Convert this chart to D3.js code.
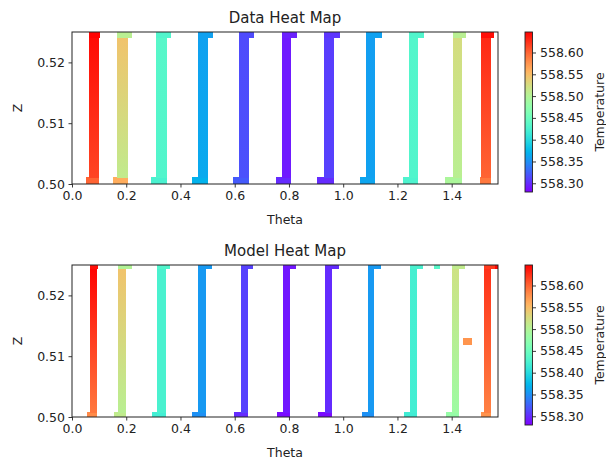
<!DOCTYPE html>
<html><head><meta charset="utf-8">
<script src="https://cdn.jsdelivr.net/npm/d3@7"></script>
<style>body{margin:0;background:#fff}svg{display:block}text{font-family:"DejaVu Sans",sans-serif;fill:#222}</style>
</head><body><svg id="c" width="606" height="461"></svg>
<script>
// ---- data ----
const xTicks = [0.0, 0.2, 0.4, 0.6, 0.8, 1.0, 1.2, 1.4];
const zTicks = [0.50, 0.51, 0.52];
const cbTicks = [558.30, 558.35, 558.40, 558.45, 558.50, 558.55, 558.60];
const thetaDomain = [0, Math.PI / 2];
const zDomain = [0.5, 0.525];
const tempDomain = [558.28, 558.647];

// Data heat map columns (theta edges) and temperatures
const dataLeft     = [0.0627, 0.1668, 0.3100, 0.4649, 0.6162, 0.7749, 0.9299, 1.0839, 1.2410, 1.4047, 1.5092];
const dataRight    = [0.1000, 0.2074, 0.3506, 0.5018, 0.6531, 0.8081, 0.9643, 1.1181, 1.2742, 1.4391, 1.5450];
const dataStepLeft = [0.0506, 0.1513, 0.2904, 0.4417, 0.5952, 0.7517, 0.9052, 1.0627, 1.2189, 1.3739, 1.5055];
const dataCapRight = [0.1026, 0.2225, 0.3653, 0.5214, 0.6728, 0.8314, 0.9864, 1.1428, 1.2963, 1.4539, 1.5572];
const dataTempCap     = [558.645, 558.505, 558.430, 558.360, 558.315, 558.295, 558.305, 558.360, 558.430, 558.505, 558.640];
const dataTempTop     = [558.642, 558.545, 558.435, 558.360, 558.315, 558.292, 558.308, 558.358, 558.432, 558.525, 558.628];
const dataTempBottom  = [558.615, 558.510, 558.430, 558.365, 558.318, 558.292, 558.310, 558.360, 558.430, 558.505, 558.600];
const dataTempStep    = [558.600, 558.560, 558.425, 558.370, 558.322, 558.300, 558.300, 558.362, 558.428, 558.495, 558.590];
const dataZ = [0.5, 0.50107, 0.5241, 0.525];

// Model heat map columns
const modelLeft     = [0.0664, 0.1708, 0.3147, 0.4661, 0.6236, 0.7775, 0.9336, 1.0911, 1.2472, 1.4011, 1.5177];
const modelRight    = [0.0923, 0.1982, 0.3469, 0.4945, 0.6506, 0.8044, 0.9605, 1.1144, 1.2719, 1.4280, 1.5450];
const modelStepLeft = [0.0542, 0.1561, 0.2941, 0.4439, 0.5978, 0.7553, 0.9083, 1.0690, 1.2225, 1.3790, 1.5092];
const modelCapRight = [0.0963, 0.2203, 0.3616, 0.5155, 0.6691, 0.8266, 0.9827, 1.1391, 1.2941, 1.4502, 1.5609];
const modelTempCap    = [558.640, 558.500, 558.430, 558.355, 558.310, 558.290, 558.300, 558.355, 558.425, 558.510, 558.620];
const modelTempTop    = [558.645, 558.545, 558.425, 558.355, 558.310, 558.290, 558.300, 558.355, 558.422, 558.520, 558.625];
const modelTempBottom = [558.590, 558.505, 558.425, 558.355, 558.310, 558.290, 558.300, 558.355, 558.420, 558.485, 558.585];
const modelTempStep   = [558.580, 558.510, 558.420, 558.350, 558.300, 558.285, 558.285, 558.350, 558.418, 558.480, 558.575];
const modelZ = [0.5, 0.50082, 0.5244, 0.525];
// isolated model cells: [theta0, theta1, z0, z1, temp]
const modelExtraTheta0 = [1.3332, 1.5609, 1.4430];
const modelExtraTheta1 = [1.3554, 1.5708, 1.4760];
const modelExtraZ0     = [0.5244, 0.5244, 0.5119];
const modelExtraZ1     = [0.525, 0.525, 0.5130];
const modelExtraTemp   = [558.435, 558.645, 558.574];

// ---- rendering ----
function rainbow(t) {
  t = Math.max(0, Math.min(1, t));
  const r = Math.min(1, Math.abs(2 * t - 0.5));
  const g = Math.sin(Math.PI * t);
  const b = Math.cos(Math.PI * t / 2);
  return d3.rgb(r * 255, g * 255, b * 255).formatHex();
}
const tNorm = d3.scaleLinear().domain(tempDomain).range([0, 1]).clamp(true);
const color = v => rainbow(tNorm(v));

const svg = d3.select('#c');
const defs = svg.append('defs');
let gid = 0;

function panel(cfg) {
  const {top, bottom, title, left, right, stepLeft, capRight, tCap, tTop, tBot, tStep, zl, extras, cbBottom} = cfg;
  const L = 72, R = 498;
  const x = d3.scaleLinear().domain(thetaDomain).range([L, R]);
  const y = d3.scaleLinear().domain(zDomain).range([bottom, top]);
  const g = svg.append('g');
  const clipId = 'clip' + (gid++);
  defs.append('clipPath').attr('id', clipId).append('rect')
    .attr('x', L).attr('y', top).attr('width', R - L).attr('height', bottom - top);
  const cells = g.append('g').attr('clip-path', `url(#${clipId})`).attr('shape-rendering', 'crispEdges');

  left.forEach((l, i) => {
    // bottom step cell
    cells.append('rect').attr('x', x(stepLeft[i])).attr('width', x(right[i]) - x(stepLeft[i]))
      .attr('y', y(zl[1])).attr('height', y(zl[0]) - y(zl[1])).attr('fill', color(tStep[i]));
    // main column with gradient
    const gradId = 'g' + (gid++);
    const lg = defs.append('linearGradient').attr('id', gradId)
      .attr('x1', 0).attr('y1', 0).attr('x2', 0).attr('y2', 1);
    lg.append('stop').attr('offset', 0).attr('stop-color', color(tTop[i]));
    lg.append('stop').attr('offset', 1).attr('stop-color', color(tBot[i]));
    cells.append('rect').attr('x', x(l)).attr('width', x(right[i]) - x(l))
      .attr('y', y(zl[2])).attr('height', y(zl[1]) - y(zl[2]) + 0.5).attr('fill', `url(#${gradId})`);
    // top cap cell
    cells.append('rect').attr('x', x(l)).attr('width', x(capRight[i]) - x(l))
      .attr('y', y(zl[3])).attr('height', y(zl[2]) - y(zl[3]) + 0.5).attr('fill', color(tCap[i]));
  });
  if (extras) {
    extras.t0.forEach((t0, i) => {
      cells.append('rect').attr('x', x(t0)).attr('width', x(extras.t1[i]) - x(t0))
        .attr('y', y(extras.z1[i])).attr('height', y(extras.z0[i]) - y(extras.z1[i]))
        .attr('fill', color(extras.temp[i]));
    });
  }

  // axes
  const xa = g.append('g').attr('transform', `translate(0,${bottom})`)
    .call(d3.axisBottom(x).tickValues(xTicks).tickFormat(d3.format('.1f')).tickSize(3.5).tickPadding(3.5));
  const ya = g.append('g').attr('transform', `translate(${L},0)`)
    .call(d3.axisLeft(y).tickValues(zTicks).tickFormat(d3.format('.2f')).tickSize(3.5).tickPadding(3.5));
  [xa, ya].forEach(a => {
    a.select('.domain').remove();
    a.selectAll('line').attr('stroke', '#222').attr('stroke-width', 0.9);
    a.selectAll('text').attr('font-size', 12.5).attr('fill', '#222').attr('font-family', '"DejaVu Sans",sans-serif');
  });
  g.append('rect').attr('x', L).attr('y', top).attr('width', R - L).attr('height', bottom - top)
    .attr('fill', 'none').attr('stroke', '#222').attr('stroke-width', 1);

  g.append('text').attr('x', (L + R) / 2).attr('y', top - 9).attr('text-anchor', 'middle')
    .attr('font-size', 15).text(title);
  g.append('text').attr('x', (L + R) / 2).attr('y', bottom + 40).attr('text-anchor', 'middle')
    .attr('font-size', 12.5).text('Theta');
  g.append('text').attr('transform', `translate(22,${(top + bottom) / 2}) rotate(-90)`)
    .attr('text-anchor', 'middle').attr('font-size', 12.5).text('Z');

  // colorbar
  const cx0 = 525, cw = 7.5;
  const cy = d3.scaleLinear().domain(tempDomain).range([cbBottom, top]);
  const cbId = 'cb' + (gid++);
  const cg = defs.append('linearGradient').attr('id', cbId)
    .attr('x1', 0).attr('y1', 1).attr('x2', 0).attr('y2', 0);
  d3.range(0, 1.0001, 0.02).forEach(t => cg.append('stop').attr('offset', t).attr('stop-color', rainbow(t)));
  g.append('rect').attr('x', cx0).attr('y', top).attr('width', cw).attr('height', cbBottom - top)
    .attr('fill', `url(#${cbId})`).attr('stroke', '#222').attr('stroke-width', 0.9);
  const ca = g.append('g').attr('transform', `translate(${cx0 + cw},0)`)
    .call(d3.axisRight(cy).tickValues(cbTicks).tickFormat(d3.format('.2f')).tickSize(3.5).tickPadding(4));
  ca.select('.domain').remove();
  ca.selectAll('line').attr('stroke', '#222').attr('stroke-width', 0.9);
  ca.selectAll('text').attr('font-size', 12.5).attr('fill', '#222').attr('font-family', '"DejaVu Sans",sans-serif');
  g.append('text').attr('transform', `translate(604,${(top + cbBottom) / 2}) rotate(-90)`)
    .attr('text-anchor', 'middle').attr('font-size', 12.5).text('Temperature');
}

panel({top: 32, bottom: 184, cbBottom: 192, title: 'Data Heat Map',
  left: dataLeft, right: dataRight, stepLeft: dataStepLeft, capRight: dataCapRight,
  tCap: dataTempCap, tTop: dataTempTop, tBot: dataTempBottom, tStep: dataTempStep, zl: dataZ});
panel({top: 265, bottom: 417, cbBottom: 425, title: 'Model Heat Map',
  left: modelLeft, right: modelRight, stepLeft: modelStepLeft, capRight: modelCapRight,
  tCap: modelTempCap, tTop: modelTempTop, tBot: modelTempBottom, tStep: modelTempStep, zl: modelZ,
  extras: {t0: modelExtraTheta0, t1: modelExtraTheta1, z0: modelExtraZ0, z1: modelExtraZ1, temp: modelExtraTemp}});
</script></body></html>
